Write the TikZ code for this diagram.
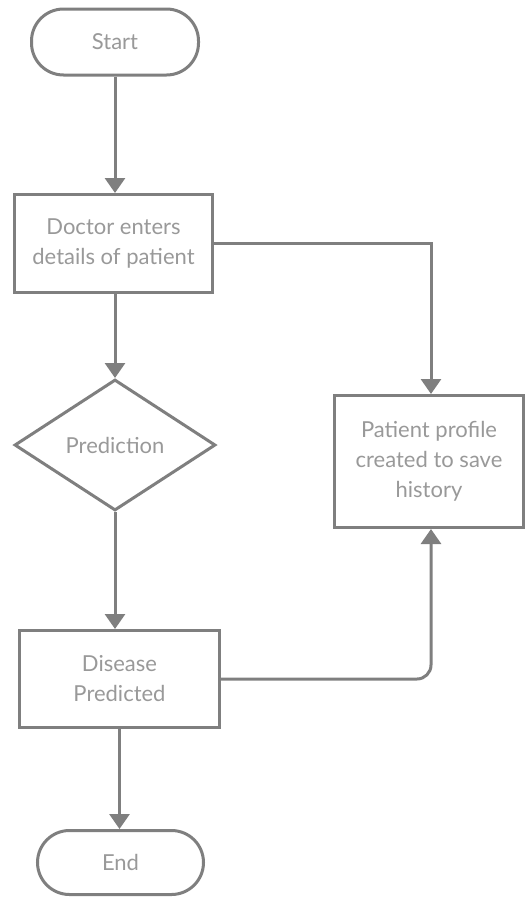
\documentclass[tikz,border=0pt]{standalone}
\usepackage{fontspec}
\setmainfont{Lato}
\usetikzlibrary{shapes.geometric,arrows.meta}
\definecolor{linegray}{HTML}{7F7F7F}
\definecolor{textgray}{HTML}{999999}
\begin{document}
\begin{tikzpicture}[x=1pt,y=-1pt,
  base/.style={draw=linegray,line width=3pt,fill=white,text=textgray,
    font=\fontsize{22}{30}\selectfont,align=center,inner sep=0pt},
  pill/.style={base,rectangle,rounded corners=32pt},
  procbox/.style={base,rectangle},
  decide/.style={base,diamond},
  conn/.style={draw=linegray,line width=3pt,-{Triangle[width=20pt,length=15pt]}}]
\useasboundingbox (0,0) rectangle (526,897);
\node[pill,minimum width=167pt,minimum height=66pt] (start) at (115,42) {Start};
\node[procbox,minimum width=198pt,minimum height=98pt] (doctor) at (113.5,243.5) {Doctor enters\\details of patient};
\node[decide,minimum width=201pt,minimum height=131pt] (pred) at (115,445) {Prediction};
\node[procbox,minimum width=189pt,minimum height=132pt] (profile) at (429,461.5) {Patient profile\\created to save\\history};
\node[procbox,minimum width=200pt,minimum height=97pt] (disease) at (119.5,679) {Disease\\Predicted};
\node[pill,minimum width=166pt,minimum height=64pt] (end) at (120.5,862.5) {End};
\coordinate (c1) at (431,243);
\coordinate (c2) at (431,679);
\draw[conn] (start.south -| 115,0) -- (doctor.north -| 115,0);
\draw[conn] (doctor.south -| 115,0) -- (pred.north);
\draw[conn] (pred.south) -- (disease.north -| 115,0);
\draw[conn] (doctor.east |- c1) -- (c1) -- (profile.north -| c1);
\draw[conn,rounded corners=14pt] (disease.east |- c2) -- (c2) -- (profile.south -| c2);
\draw[conn] (disease.south -| 119.5,0) -- (end.north -| 119.5,0);
\end{tikzpicture}
\end{document}
